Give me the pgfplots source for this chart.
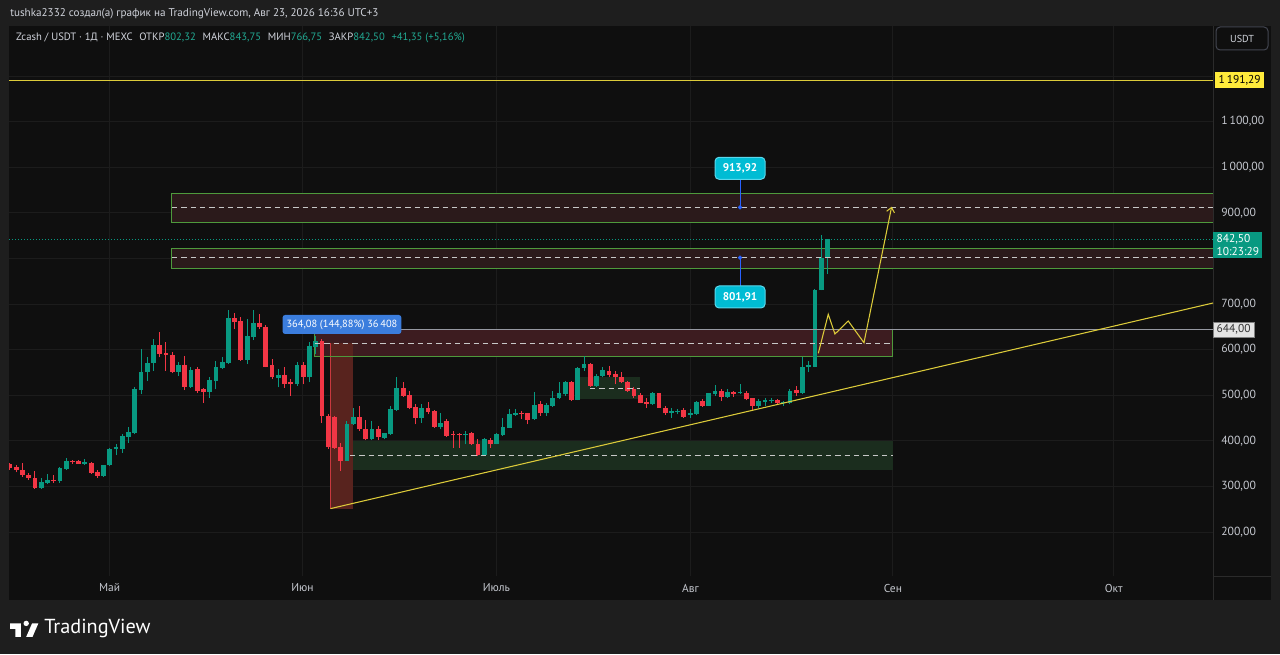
\documentclass[border=0pt]{standalone}
\usepackage{fontspec}
\setmainfont{PT Sans}
\usepackage{pgfplots}
\pgfplotsset{compat=1.18}
\usepackage{pgfplotstable}
\usetikzlibrary{arrows.meta}
\definecolor{bgout}{HTML}{1E1E1E}
\definecolor{pane}{HTML}{0F0F0F}
\definecolor{gridc}{HTML}{1C1C1C}
\definecolor{sepc}{HTML}{2B2B2B}
\definecolor{btnc}{HTML}{434651}
\definecolor{txt}{HTML}{D1D4DC}
\definecolor{axtxt}{HTML}{C4C7CE}
\definecolor{upc}{HTML}{089981}
\definecolor{numc}{HTML}{22AB94}
\definecolor{downc}{HTML}{F23645}
\definecolor{yel}{HTML}{DCCB3A}
\definecolor{yelbox}{HTML}{FFEB3B}
\definecolor{boxgreen}{HTML}{4E9A3C}
\definecolor{boxred}{HTML}{2B1A1B}
\definecolor{boxredm}{HTML}{3D1C20}
\definecolor{measfill}{HTML}{58231E}
\definecolor{measline}{HTML}{C8383E}
\definecolor{greenfill}{HTML}{1B2D1E}
\definecolor{dashc}{HTML}{C8C8C8}
\definecolor{grayline}{HTML}{9598A1}
\definecolor{lblcyan}{HTML}{00BCD4}
\definecolor{lblcyanb}{HTML}{5AD8EC}
\definecolor{lineblue}{HTML}{2962FF}
\definecolor{measblue}{HTML}{3B7DDD}
\definecolor{lightbox}{HTML}{E3E3E3}

\pgfplotstableread{
i o h l c
5 297 319 295 309
6 307 328 305 314
8 312 343 308 341
9 339 363 336 356
12 350 361 347 353
15 323 348 321 347
16 346 385 345 381
17 381 392 368 386
18 383 414 374 411
19 409 431 396 420
20 417 517 414 513
21 511 601 502 551
22 550 583 532 571
23 570 623 554 610
27 552 572 543 567
29 519 561 516 556
32 508 540 495 534
33 531 576 513 561
34 560 583 557 572
35 570 686 568 670
38 577 667 568 629
39 627 686 621 659
43 537 558 517 544
46 524 572 521 567
48 539 616 528 607
49 605 631 590 618
54 356 444 356 436
55 436 472 435 453
58 403 444 401 425
60 407 418 403 417
61 414 477 413 469
62 468 539 466 516
66 451 480 440 473
69 430 462 425 439
73 413 422 392 415
76 370 407 369 403
78 394 418 392 414
79 413 451 411 431
80 429 469 428 458
81 457 469 455 462
84 447 508 446 479
86 460 484 455 479
87 477 510 475 495
88 494 528 491 506
89 502 532 499 530
91 490 561 489 560
92 560 585 554 568
94 521 546 519 543
95 542 561 539 555
103 480 508 479 504
106 462 472 451 466
107 464 469 458 465
109 457 469 451 462
110 458 488 457 486
112 477 506 476 504
113 502 523 499 510
115 497 513 495 508
117 504 524 502 508
120 477 491 473 488
121 486 495 477 489
122 487 494 482 490
124 482 488 477 486
125 482 513 480 510
127 504 583 502 561
128 561 576 550 567
129 563 733 561 731
130 731 852 730 801
131 802.32 843.75 766.75 842.5
}\upcandles

\pgfplotstableread{
i o h l c
0 350 352 337 341
1 343 348 331 336
2 336 352 321 326
3 326 330 315 319
4 319 333 295 297
7 314 326 308 312
10 356 359 349 353
11 356 357 349 350
13 352 354 328 330
14 332 335 319 323
24 610 638 583 590
25 592 616 554 589
26 589 594 548 552
28 567 587 511 519
30 557 561 506 510
31 513 515 484 507
36 670 680 645 660
37 662 671 576 577
40 659 678 645 649
41 649 653 561 563
42 566 579 535 539
44 545 561 516 524
45 528 535 499 524
47 566 572 524 541
50 618 623 440 455
51 455 458 383 386
52 452 455 383 385
53 387 396 334 356
56 453 477 422 425
57 425 445 401 403
59 425 433 401 409
63 516 530 497 499
64 501 510 469 473
65 475 480 436 451
67 473 486 458 464
68 466 467 429 431
70 444 447 409 411
71 414 422 385 412
72 414 418 384 413
74 417 420 391 392
75 392 403 367 370
77 402 406 385 394
82 461 466 447 458
83 460 462 436 445
85 480 488 455 460
90 530 532 488 490
93 568 570 519 521
96 554 565 541 544
97 546 554 524 539
98 541 550 526 528
99 528 531 507 510
100 513 517 495 499
101 501 506 482 484
102 486 495 473 480
104 504 506 472 473
105 473 477 457 460
108 467 473 450 453
111 488 491 475 477
114 510 513 488 497
116 508 510 497 502
118 505 510 489 491
119 494 495 466 477
123 490 491 480 484
126 511 521 499 504
}\downcandles

\newcommand\num[1]{\textcolor{numc}{#1}}

\begin{document}
\begin{tikzpicture}
\useasboundingbox (0,0) rectangle (960pt,490.5pt);
\begin{scope}[x=0.75pt,y=0.75pt]
\fill[bgout] (0,0) rectangle (1280,654);
\fill[pane] (9,54) rectangle (1271,628);
\draw[sepc, line width=0.75pt] (1213,54) -- (1213,628);
\draw[sepc, line width=0.75pt] (1213,78) -- (1271,78);
% header
\node[anchor=west, inner sep=0pt, text=txt, font=\fontsize{8.35}{10}\selectfont] at (10,640.5) {tushka2332 создал(а) график на TradingView.com, Авг 23, 2026 16:36 UTC+3};
% USDT button
\draw[btnc, line width=0.75pt, rounded corners=3pt, fill=pane] (1216,604) rectangle (1268,627);
\node[text=txt, font=\fontsize{7.6}{9}\selectfont] at (1242,615.5) {USDT};
% footer logo
\fill[white] (10,30.6) -- (20.8,30.6) -- (20.8,17.1) -- (15.4,17.1) -- (15.4,25.2) -- (10,25.2) -- cycle;
\fill[white] (26.2,30.6) circle (2.7);
\fill[white] (26.2,17.1) -- (32.5,17.1) -- (38.35,30.6) -- (32.05,30.6) -- cycle;
\node[anchor=west, inner sep=0pt, text=white, font=\fontsize{15.2}{17}\selectfont] at (44,26) {TradingView};
\end{scope}

\begin{axis}[
  at={(6.75pt,58.5pt)}, anchor=south west,
  width=903pt, height=412.5pt, scale only axis,
  xmin=-0.16, xmax=192.8, ymin=103.5, ymax=1309.9,
  axis line style={draw=none},
  major tick length=0pt,
  xtick={15.95,46.88,77.96,109.06,141.5,176.9},
  xticklabels={Май,Июн,Июль,Авг,Сен,Окт},
  ytick={200,300,...,1200},
  yticklabels={{200,00},{300,00},{400,00},{500,00},{600,00},{700,00},{},{900,00},{1\,000,00},{1\,100,00},{}},
  yticklabel pos=right,
  grid=major,
  major grid style={gridc, line width=0.75pt},
  tick label style={text=axtxt},
  xticklabel style={anchor=center, yshift=-9pt, font=\fontsize{8.6}{10}\selectfont},
  yticklabel style={anchor=west, inner sep=0pt, xshift=6pt, font=\fontsize{8.8}{10}\selectfont},
  clip mode=individual,
]
% 1191.29 line
\addplot[yel, line width=0.8pt] coordinates {(-0.16,1191.29) (192.8,1191.29)};
% box fills
\addplot[fill=boxred, draw=none] coordinates {(25.96,878.5) (192.8,878.5) (192.8,942) (25.96,942)} -- cycle;
\addplot[fill=boxred, draw=none] coordinates {(25.96,777) (192.8,777) (192.8,821) (25.96,821)} -- cycle;
\addplot[fill=boxredm, draw=none] coordinates {(48.88,584.5) (141.51,584.5) (141.51,644) (48.88,644)} -- cycle;
\addplot[fill=greenfill, draw=none] coordinates {(53.21,336) (141.51,336) (141.51,399.6) (53.21,399.6)} -- cycle;
\addplot[fill=greenfill, draw=none] coordinates {(90.87,491.3) (100.96,491.3) (100.96,540.6) (90.87,540.6)} -- cycle;
\addplot[fill=measfill, draw=none] coordinates {(51.44,251.3) (55.02,251.3) (55.02,615.4) (51.44,615.4)} -- cycle;
\addplot[measline, line width=0.75pt] coordinates {(51.44,251.3) (51.44,615.4)};
% box borders
\addplot[boxgreen, line width=0.75pt] coordinates {(192.8,942) (25.96,942) (25.96,878.5) (192.8,878.5)};
\addplot[boxgreen, line width=0.75pt] coordinates {(192.8,821) (25.96,821) (25.96,777) (192.8,777)};
\addplot[boxgreen, line width=0.75pt] coordinates {(48.88,644) (48.88,584.5) (141.51,584.5) (141.51,644)};
% candles: wicks
\addplot[draw=none, mark=none, error bars/.cd, y dir=plus, y explicit, error mark=none,
  error bar style={line width=0.75pt, draw=upc}]
  table[x=i, y=l, y error plus expr=\thisrow{h}-\thisrow{l}] {\upcandles};
\addplot[draw=none, mark=none, error bars/.cd, y dir=plus, y explicit, error mark=none,
  error bar style={line width=0.75pt, draw=downc}]
  table[x=i, y=l, y error plus expr=\thisrow{h}-\thisrow{l}] {\downcandles};
% candles: bodies
\addplot[draw=none, mark=none, error bars/.cd, y dir=plus, y explicit, error mark=none,
  error bar style={line width=3.6pt, draw=upc}]
  table[x=i, y=o, y error plus expr=\thisrow{c}-\thisrow{o}] {\upcandles};
\addplot[draw=none, mark=none, error bars/.cd, y dir=plus, y explicit, error mark=none,
  error bar style={line width=3.6pt, draw=downc}]
  table[x=i, y=c, y error plus expr=\thisrow{o}-\thisrow{c}] {\downcandles};
% dashed mid lines
\addplot[dashc, line width=0.75pt, dash pattern=on 4pt off 3pt] coordinates {(25.96,912) (192.8,912)};
\addplot[dashc, line width=0.75pt, dash pattern=on 4pt off 3pt] coordinates {(25.96,801.91) (192.8,801.91)};
\addplot[dashc, line width=0.75pt, dash pattern=on 4pt off 3pt] coordinates {(48.88,614.3) (141.51,614.3)};
\addplot[dashc, line width=0.75pt, dash pattern=on 4pt off 3pt] coordinates {(54.49,367.8) (141.51,367.8)};
\addplot[dashc, line width=0.75pt, dash pattern=on 4pt off 3pt] coordinates {(92.95,515.4) (100.96,515.4)};
% 644 line and price line
\addplot[grayline, line width=0.75pt] coordinates {(48.88,644) (192.8,644)};
\addplot[upc, line width=0.75pt, dash pattern=on 0.75pt off 1.5pt] coordinates {(-0.16,842.5) (192.8,842.5)};
% trend line and projection
\addplot[yel, line width=0.8pt] coordinates {(51.36,251.3) (192.8,702.3)};
\addplot[yel, line width=0.8pt, -{Straight Barb[length=3.5pt,width=6pt]}] coordinates {(129.54,592.0) (131.14,677.5) (132.21,634.3) (134.34,662.8) (136.86,615.2) (141.30,913.6)};
% price-level callouts
\addplot[lineblue, line width=0.75pt] coordinates {(117,912) (117,973.6)};
\addplot[lineblue, line width=0.75pt] coordinates {(117,801.91) (117,739.6)};
\addplot[only marks, mark=*, mark size=1.4pt, lineblue] coordinates {(117,912) (117,801.91)};
\node[fill=lblcyan, draw=lblcyanb, line width=0.75pt, rounded corners=3pt, text=white, minimum width=37.5pt, minimum height=16.5pt, inner sep=0pt, font=\bfseries\fontsize{8.4}{9}\selectfont] at (axis cs:117,997.8) {913,92};
\node[fill=lblcyan, draw=lblcyanb, line width=0.75pt, rounded corners=3pt, text=white, minimum width=37.5pt, minimum height=16.5pt, inner sep=0pt, font=\bfseries\fontsize{8.4}{9}\selectfont] at (axis cs:117,715.5) {801,91};
\node[fill=measblue, rounded corners=2pt, text=white, minimum height=14.25pt, inner xsep=3pt, inner ysep=0pt, font=\fontsize{7.8}{9}\selectfont] at (axis cs:53.2,655.2) {364,08 (144,88\%) 36\,408};
% legend line inside pane
\node[anchor=west, inner sep=0pt, text=txt, font=\fontsize{8.0}{9}\selectfont] at (axis cs:0.95,1283.6) {Zcash / USDT · 1Д · MEXC\hspace{5pt}ОТКР\num{802,32}\hspace{5pt}МАКС\num{843,75}\hspace{5pt}МИН\num{766,75}\hspace{5pt}ЗАКР\num{842,50}\hspace{5pt}\num{+41,35 (+5,16\%)}};
% price axis labels
\node[anchor=west, xshift=1.5pt, fill=yelbox, text=black, inner xsep=2.5pt, minimum height=11.5pt, inner ysep=0pt, font=\fontsize{8.6}{10}\selectfont] at (axis cs:192.8,1191.29) {1\,191,29};
\node[anchor=north west, yshift=5.5pt, fill=upc, text=white, align=left, inner xsep=2.5pt, inner ysep=1.8pt, font=\fontsize{8.6}{10}\selectfont] at (axis cs:192.8,842.5) {842,50\\10:23:29};
\node[anchor=west, fill=lightbox, draw=gray, line width=0.5pt, text=black!80, inner xsep=2.5pt, minimum height=11.25pt, inner ysep=0pt, font=\fontsize{8.6}{10}\selectfont] at (axis cs:192.8,644) {644,00};
\end{axis}
\end{tikzpicture}
\end{document}
